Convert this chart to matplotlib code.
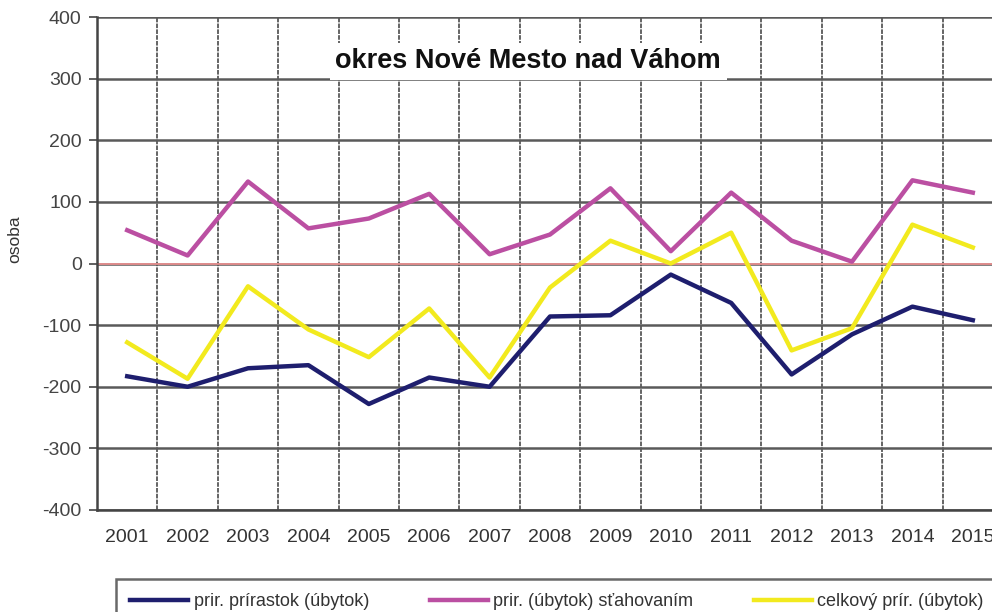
import matplotlib
matplotlib.use('Agg')
import matplotlib.pyplot as plt
import numpy as np

plt.rcParams['font.family'] = ['Liberation Sans', 'DejaVu Sans']
plt.rcParams['axes.unicode_minus'] = False

years = ['2001', '2002', '2003', '2004', '2005', '2006', '2007', '2008',
         '2009', '2010', '2011', '2012', '2013', '2014', '2015']
prirodzeny = [-183, -200, -170, -165, -228, -185, -200, -86, -84, -18,
              -64, -180, -115, -70, -92]
stahovanim = [54, 13, 133, 57, 73, 113, 15, 47, 122, 20, 115, 37, 3, 135, 115]
celkovy = [-128, -187, -37, -107, -152, -73, -185, -39, 37, 0, 50, -141,
           -105, 63, 26]

labels = ['prir. prírastok (úbytok)', 'prir. (úbytok) sťahovaním',
          'celkový prír. (úbytok)']
colors = ['#1e1e6e', '#bb4fa2', '#f2ea1e']

fig = plt.figure(figsize=(9.92, 6.12), dpi=100)
W, H = 992, 612
ax = fig.add_axes([97 / W, 1 - 510 / H, 906 / W, 493 / H])

x = np.arange(len(years))
ax.axhline(0, color='#e89090', lw=1.3, zorder=2)
for vals, lab, col in zip([prirodzeny, stahovanim, celkovy], labels, colors):
    ax.plot(x, vals, color=col, lw=3.2, label=lab, zorder=3)

ax.set_xlim(-0.5, len(years) - 0.5)
ax.set_ylim(-400, 400)
ax.set_yticks(np.arange(-400, 401, 100))
ax.set_xticks(x)
ax.set_xticklabels(years)
ax.set_xticks(np.arange(-0.5, len(years), 1), minor=True)
ax.tick_params(axis='x', which='both', length=0, pad=14, labelsize=14,
               colors='#333333')
ax.tick_params(axis='y', length=6, width=1.2, pad=5, labelsize=14,
               colors='#444444')

ax.grid(True, axis='y', color='#5a5a5a', lw=1.8)
ax.grid(True, axis='x', which='minor', color='#3a3a3a', lw=1.1,
        linestyle=(0, (3, 0.8)))
ax.set_axisbelow(True)

for s in ['top', 'right']:
    ax.spines[s].set_visible(False)
for s in ['left', 'bottom']:
    ax.spines[s].set_color('#444444')
    ax.spines[s].set_linewidth(1.8)

ax.set_ylabel('osoba', fontsize=12.5, color='#333333')
ax.yaxis.set_label_coords(-0.082, 0.55)

ax.text(6.64, 328, 'okres Nové Mesto nad Váhom', fontsize=19.5,
        fontweight='bold', ha='center', va='center', color='#111111',
        bbox=dict(facecolor='white', edgecolor='none', pad=4), zorder=4)

leg = fig.legend(loc='upper left', bbox_to_anchor=(107 / W, 0, 900 / W, 1 - 570 / H),
                 mode='expand', ncol=3, fontsize=13, handlelength=3.2,
                 frameon=True, fancybox=False, borderpad=0.8,
                 handletextpad=0.3)
leg.get_frame().set_edgecolor('#444444')
leg.get_frame().set_linewidth(1.8)
for t in leg.get_texts():
    t.set_color('#333333')

fig.savefig('out.png', dpi=100)
